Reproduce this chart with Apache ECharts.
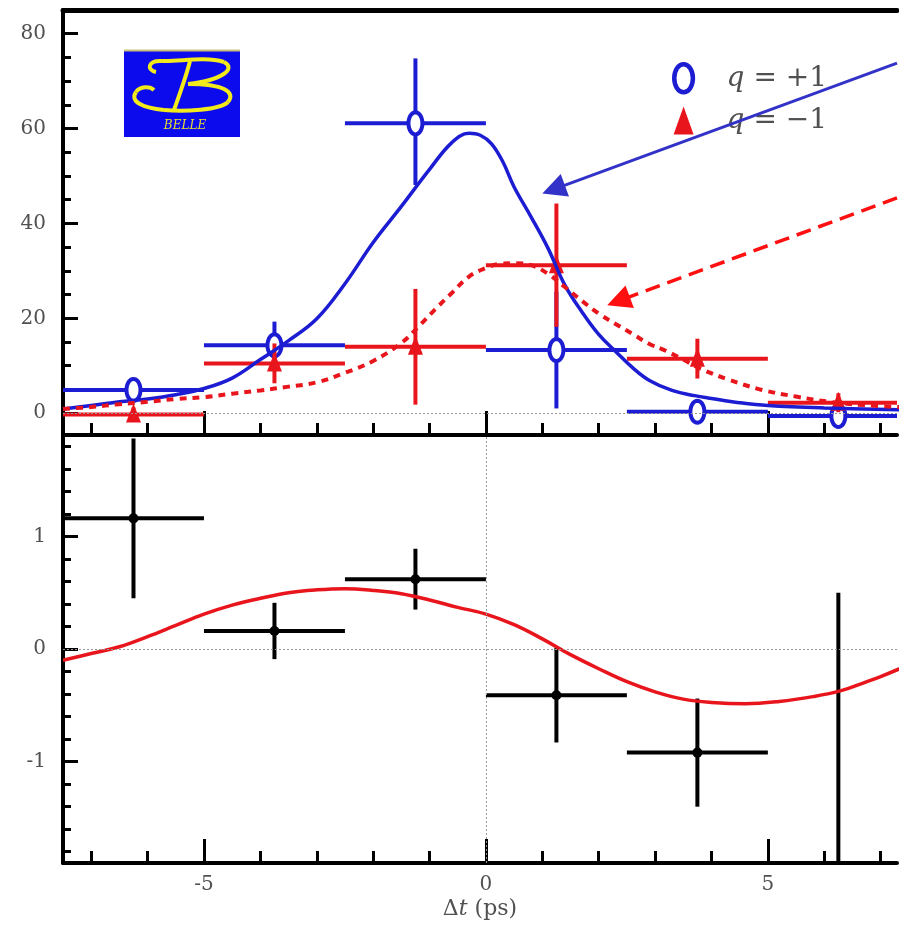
<!DOCTYPE html>
<html>
<head>
<meta charset="utf-8">
<script src="https://cdn.jsdelivr.net/npm/echarts@6/dist/echarts.min.js"></script>
<style>
  html, body { margin: 0; padding: 0; background: #fff; }
  #chart { width: 899px; height: 928px; }
</style>
</head>
<body>
<div id="chart"></div>
<script>
// Δt bins (ps): centres and half width
const binCenters = [-6.25, -3.75, -1.25, 1.25, 3.75, 6.25];
const binHalfWidth = 1.25;

// Event yields, q = +1
const plusCounts   = [4.9, 14.3, 61.1, 13.3, 0.3, -0.6];
const plusErrUp    = [2.2, 5.0, 13.7, 12.3, 1.5, 1.5];
const plusErrDown  = [2.2, 5.0, 13.0, 12.3, 1.5, 1.5];

// Event yields, q = -1
const minusCounts  = [-0.3, 10.5, 14.0, 31.2, 11.5, 2.2];
const minusErr     = [1.5, 4.2, 12.2, 13.0, 4.2, 2.0];

// Asymmetry per bin
const asymValues   = [1.16, 0.16, 0.62, -0.41, -0.92, -2.1];
const asymErr      = [0.71, 0.25, 0.27, 0.42, 0.48, 2.6];

// Fit projections [Δt, value]
const fitPlus = [
  [-7.5, 0.9], [-7.0, 1.6], [-6.5, 2.4], [-6.0, 3.0], [-5.5, 3.9], [-5.0, 5.2],
  [-4.5, 7.4], [-4.0, 11.3], [-3.5, 15.3], [-3.0, 19.9], [-2.5, 27.3], [-2.0, 36.0],
  [-1.5, 43.6], [-1.0, 51.4], [-0.6, 57.1], [-0.3, 59.0], [-0.1, 58.6], [0.1, 56.8],
  [0.3, 53.0], [0.5, 47.7], [0.8, 41.4], [1.1, 34.8], [1.4, 27.0], [1.7, 21.4],
  [2.0, 16.6], [2.3, 13.0], [2.6, 9.6], [2.9, 6.9], [3.3, 4.8], [3.7, 3.7],
  [4.0, 3.1], [4.5, 2.2], [5.0, 1.6], [6.0, 1.1], [7.5, 0.7]
];
const fitMinus = [
  [-7.5, 0.9], [-7.0, 1.3], [-6.5, 1.9], [-6.0, 2.4], [-5.5, 3.0], [-5.0, 3.4],
  [-4.5, 4.1], [-4.0, 4.8], [-3.5, 5.6], [-3.0, 6.5], [-2.5, 8.5], [-2.0, 11.0],
  [-1.5, 14.8], [-1.2, 18.2], [-0.9, 21.9], [-0.6, 25.4], [-0.3, 28.8], [0.0, 30.6],
  [0.25, 31.5], [0.5, 31.6], [0.8, 31.2], [1.1, 29.4], [1.4, 26.6], [1.7, 23.7],
  [2.0, 21.0], [2.3, 18.8], [2.6, 16.7], [2.9, 14.6], [3.2, 13.1], [3.5, 11.3],
  [3.8, 9.4], [4.3, 7.1], [4.9, 4.9], [5.5, 3.5], [6.1, 2.4], [6.7, 1.7], [7.5, 1.2]
];
const fitAsym = [
  [-7.5, -0.10], [-7.0, -0.04], [-6.5, 0.02], [-6.0, 0.11], [-5.5, 0.21], [-5.0, 0.31],
  [-4.5, 0.39], [-4.0, 0.45], [-3.5, 0.50], [-3.0, 0.525], [-2.5, 0.535], [-2.0, 0.52],
  [-1.5, 0.49], [-1.0, 0.435], [-0.5, 0.37], [0.0, 0.31], [0.5, 0.216], [1.0, 0.09],
  [1.5, -0.05], [2.0, -0.175], [2.5, -0.29], [3.0, -0.38], [3.5, -0.445], [4.0, -0.474],
  [4.6, -0.486], [5.2, -0.466], [5.8, -0.423], [6.3, -0.37], [6.7, -0.30], [7.0, -0.245],
  [7.5, -0.14]
];

// Arrow annotations, in data coordinates [start, end]
const arrowPlus  = [[7.29, 73.8], [1.2, 47.2]];
const arrowMinus = [[7.29, 45.4], [2.35, 23.65]];

// Visible Δt window (the frame runs past the right edge)
const xMin = -7.5, xMax = 7.29;

// Axis ticks
const xMajorTicks = [-5, 0, 5];
const xMinorTicks = [-7, -6, -4, -3, -2, -1, 1, 2, 3, 4, 6, 7];
const yTopMajor = [0, 20, 40, 60, 80];
const yTopMinor = [5, 10, 15, 25, 30, 35, 45, 50, 55, 65, 70, 75];
const yBotMajor = [-1, 0, 1];
const yBotMinor = [-1.8, -1.6, -1.4, -1.2, -0.8, -0.6, -0.4, -0.2, 0.2, 0.4, 0.6, 0.8, 1.2, 1.4, 1.6, 1.8];

const BLUE = '#1c1cd2';
const RED = '#e8161c';
const LABEL = '#505050';
const SERIF = '"DejaVu Serif", "Liberation Serif", serif';

const plusData  = binCenters.map((x, i) => [x, plusCounts[i], plusCounts[i] - plusErrDown[i], plusCounts[i] + plusErrUp[i]]);
const minusData = binCenters.map((x, i) => [x, minusCounts[i], minusCounts[i] - minusErr[i], minusCounts[i] + minusErr[i]]);
const asymData  = binCenters.map((x, i) => [x, asymValues[i], asymValues[i] - asymErr[i], asymValues[i] + asymErr[i]]);

// Open ellipse outline as a polygon
function ellipsePoints(cx, cy, rx, ry) {
  const pts = [];
  for (let k = 0; k < 36; k++) {
    const a = (k / 36) * Math.PI * 2;
    pts.push([cx + rx * Math.cos(a), cy + ry * Math.sin(a)]);
  }
  return pts;
}

const markers = {
  ellipse: (c, color) => ({ type: 'polygon', shape: { points: ellipsePoints(c[0], c[1], 7, 11) },
    style: { fill: '#fff', stroke: color, lineWidth: 4 } }),
  triangle: (c, color) => ({ type: 'polygon',
    shape: { points: [[c[0], c[1] - 11], [c[0] - 7.5, c[1] + 8], [c[0] + 7.5, c[1] + 8]] },
    style: { fill: color } }),
  dot: (c, color) => ({ type: 'circle', shape: { cx: c[0], cy: c[1], r: 5 }, style: { fill: color } })
};

// Crosses: horizontal bar spans the bin, vertical bar spans the error
function errorBars(markerKind, color) {
  return function (params, api) {
    const x = api.value(0), y = api.value(1);
    const c = api.coord([x, y]);
    const l = api.coord([x - binHalfWidth, y]);
    const r = api.coord([x + binHalfWidth, y]);
    const lo = api.coord([x, api.value(2)]);
    const hi = api.coord([x, api.value(3)]);
    const ls = { stroke: color, lineWidth: 4 };
    return {
      type: 'group',
      children: [
        { type: 'line', shape: { x1: l[0], y1: c[1], x2: r[0], y2: c[1] }, style: ls },
        { type: 'line', shape: { x1: c[0], y1: hi[1], x2: c[0], y2: lo[1] }, style: ls },
        markers[markerKind](c, color)
      ]
    };
  };
}

const tickLine = { color: '#000', width: 3 };
const labelText = { color: LABEL, fontFamily: SERIF, fontSize: 20 };

function xAxesFor(gridIndex, withLabels, withTopLine) {
  const major = {
    gridIndex, type: 'value', min: xMin, max: xMax, position: 'bottom',
    axisLine: { show: true, onZero: false, lineStyle: { color: '#000', width: 4 } },
    axisTick: { show: true, inside: true, length: 24, customValues: xMajorTicks, lineStyle: tickLine },
    axisLabel: Object.assign({ show: withLabels, customValues: xMajorTicks, margin: 12 }, labelText),
    splitLine: { show: false }
  };
  if (withLabels) {
    major.name = '{n|Δ}{i|t}{n| (ps)}';
    major.nameLocation = 'middle';
    major.nameGap = 35;
    major.nameTextStyle = {
      color: LABEL, fontFamily: SERIF, fontSize: 22,
      rich: {
        n: { color: LABEL, fontFamily: SERIF, fontSize: 22 },
        i: { color: LABEL, fontFamily: SERIF, fontSize: 22, fontStyle: 'italic' }
      }
    };
  }
  const minor = {
    gridIndex, type: 'value', min: xMin, max: xMax, position: 'bottom', offset: 0,
    axisLine: { show: false, onZero: false },
    axisTick: { show: true, inside: true, length: 12, customValues: xMinorTicks, lineStyle: tickLine },
    axisLabel: { show: false },
    splitLine: { show: false }
  };
  const axes = [major, minor];
  if (withTopLine) {
    axes.push({
      gridIndex, type: 'value', min: xMin, max: xMax, position: 'top', offset: 0,
      axisLine: { show: true, onZero: false, lineStyle: { color: '#000', width: 5 } },
      axisTick: { show: false }, axisLabel: { show: false }, splitLine: { show: false }
    });
  }
  return axes;
}

function yAxesFor(gridIndex, min, max, majorVals, minorVals) {
  return [
    {
      gridIndex, type: 'value', min, max, position: 'left',
      axisLine: { show: true, onZero: false, lineStyle: { color: '#000', width: 4 } },
      axisTick: { show: true, inside: true, length: 15, customValues: majorVals, lineStyle: tickLine },
      axisLabel: Object.assign({ show: true, customValues: majorVals, margin: 17 }, labelText),
      splitLine: { show: false }
    },
    {
      gridIndex, type: 'value', min, max, position: 'left', offset: 0,
      axisLine: { show: false, onZero: false },
      axisTick: { show: true, inside: true, length: 8, customValues: minorVals, lineStyle: tickLine },
      axisLabel: { show: false },
      splitLine: { show: false }
    }
  ];
}

// Script "B" of the Belle logo: cubic segments [x1,y1, cp1x,cp1y, cp2x,cp2y, x2,y2]
const logoStrokes = [
  [32, 22, 22, 20, 24, 10, 38, 11],
  [38, 11, 55, 12, 80, 6, 100, 12],
  [100, 12, 112, 18, 100, 30, 64, 34],
  [64, 34, 100, 34, 112, 42, 104, 52],
  [104, 52, 96, 60, 60, 62, 40, 60],
  [40, 60, 20, 58, 5, 52, 12, 42],
  [12, 42, 16, 36, 26, 36, 30, 40],
  [66, 11, 62, 27, 56, 43, 50, 60]
];
const logoChildren = [
  { type: 'rect', shape: { x: 0, y: 0, width: 116, height: 87 }, style: { fill: '#0b0bee' } },
  { type: 'line', shape: { x1: 0, y1: 0.5, x2: 116, y2: 0.5 }, style: { stroke: '#c9c27a', lineWidth: 2 } }
].concat(logoStrokes.map(s => ({
  type: 'bezierCurve',
  shape: { x1: s[0], y1: s[1], cpx1: s[2], cpy1: s[3], cpx2: s[4], cpy2: s[5], x2: s[6], y2: s[7] },
  style: { fill: null, stroke: '#f2ea1a', lineWidth: 4 }
}))).concat([
  { type: 'text', style: { text: 'BELLE', x: 61, y: 76, align: 'center', verticalAlign: 'middle',
      fill: '#e6dc30', font: 'italic 12px ' + SERIF } }
]);

const zeroLine = { type: [2, 2], color: '#999', width: 1 };

const chart = echarts.init(document.getElementById('chart'));
chart.setOption({
  animation: false,
  backgroundColor: '#fff',
  grid: [
    { left: 63, top: 10, right: 2, height: 425 },
    { left: 63, top: 435, right: 2, height: 428 }
  ],
  xAxis: [...xAxesFor(0, false, true), ...xAxesFor(1, true, false)],
  yAxis: [...yAxesFor(0, -4.6, 85, yTopMajor, yTopMinor), ...yAxesFor(1, -1.9, 1.9, yBotMajor, yBotMinor)],
  legend: {
    orient: 'vertical', left: 667, top: 57, itemWidth: 20, itemHeight: 28, itemGap: 12, z: 1,
    selectedMode: false,
    data: [
      { name: 'q = +1', icon: 'path://M0,-12A8,12 0 1,1 0,12A8,12 0 1,1 0,-12Z',
        itemStyle: { color: '#fff', borderColor: BLUE, borderWidth: 4.5 } },
      { name: 'q = −1', icon: 'triangle', itemStyle: { color: RED } }
    ],
    formatter: name => '{sp| }{i|q}{t|' + name.slice(1) + '}',
    textStyle: {
      color: LABEL, fontFamily: SERIF, fontSize: 28,
      rich: {
        sp: { width: 28 },
        i: { color: LABEL, fontFamily: SERIF, fontSize: 28, fontStyle: 'italic' },
        t: { color: LABEL, fontFamily: SERIF, fontSize: 28 }
      }
    }
  },
  graphic: [{ type: 'group', x: 124, y: 50, z: 0, children: logoChildren }],
  series: [
    {
      name: 'q = +1', type: 'custom', xAxisIndex: 0, yAxisIndex: 0, z: 2, clip: true,
      encode: { x: 0, y: 1 }, itemStyle: { color: BLUE },
      renderItem: errorBars('ellipse', BLUE), data: plusData
    },
    {
      name: 'q = −1', type: 'custom', xAxisIndex: 0, yAxisIndex: 0, z: 2, clip: true,
      encode: { x: 0, y: 1 }, itemStyle: { color: RED },
      renderItem: errorBars('triangle', RED), data: minusData
    },
    {
      name: 'fit q = +1', type: 'line', xAxisIndex: 0, yAxisIndex: 0, z: 3,
      data: fitPlus, smooth: 0.4, showSymbol: false, silent: true,
      lineStyle: { color: BLUE, width: 3.5 },
      markLine: {
        silent: true, symbol: ['none', 'none'], label: { show: false },
        data: [
          { yAxis: 0, lineStyle: zeroLine },
          [
            { coord: arrowPlus[0], symbol: 'none' },
            { coord: arrowPlus[1], symbol: 'triangle', symbolSize: 24,
              lineStyle: { color: '#3232c8', width: 3, type: 'solid' }, itemStyle: { color: '#3232c8' } }
          ]
        ],
        lineStyle: { color: '#3232c8', width: 3, type: 'solid' }
      }
    },
    {
      name: 'fit q = −1', type: 'line', xAxisIndex: 0, yAxisIndex: 0, z: 3,
      data: fitMinus, smooth: 0.4, showSymbol: false, silent: true,
      lineStyle: { color: RED, width: 4, type: [7, 6] },
      markLine: {
        silent: true, symbol: ['none', 'none'], label: { show: false },
        data: [
          [
            { coord: arrowMinus[0], symbol: 'none' },
            { coord: arrowMinus[1], symbol: 'triangle', symbolSize: 24,
              lineStyle: { color: '#ff1010', width: 3.5, type: [15, 8] }, itemStyle: { color: '#ff1010' } }
          ]
        ],
        lineStyle: { color: '#ff1010', width: 3.5, type: [15, 8] }
      }
    },
    {
      name: 'asymmetry', type: 'custom', xAxisIndex: 3, yAxisIndex: 2, z: 2, clip: true,
      encode: { x: 0, y: 1 }, itemStyle: { color: '#000' },
      renderItem: errorBars('dot', '#000'), data: asymData
    },
    {
      name: 'fit asymmetry', type: 'line', xAxisIndex: 3, yAxisIndex: 2, z: 3,
      data: fitAsym, smooth: 0.4, showSymbol: false, silent: true,
      lineStyle: { color: RED, width: 3.5 },
      markLine: {
        silent: true, symbol: ['none', 'none'], label: { show: false },
        data: [ { yAxis: 0, lineStyle: zeroLine }, { xAxis: 0, lineStyle: zeroLine } ]
      }
    }
  ]
});
</script>
</body>
</html>
